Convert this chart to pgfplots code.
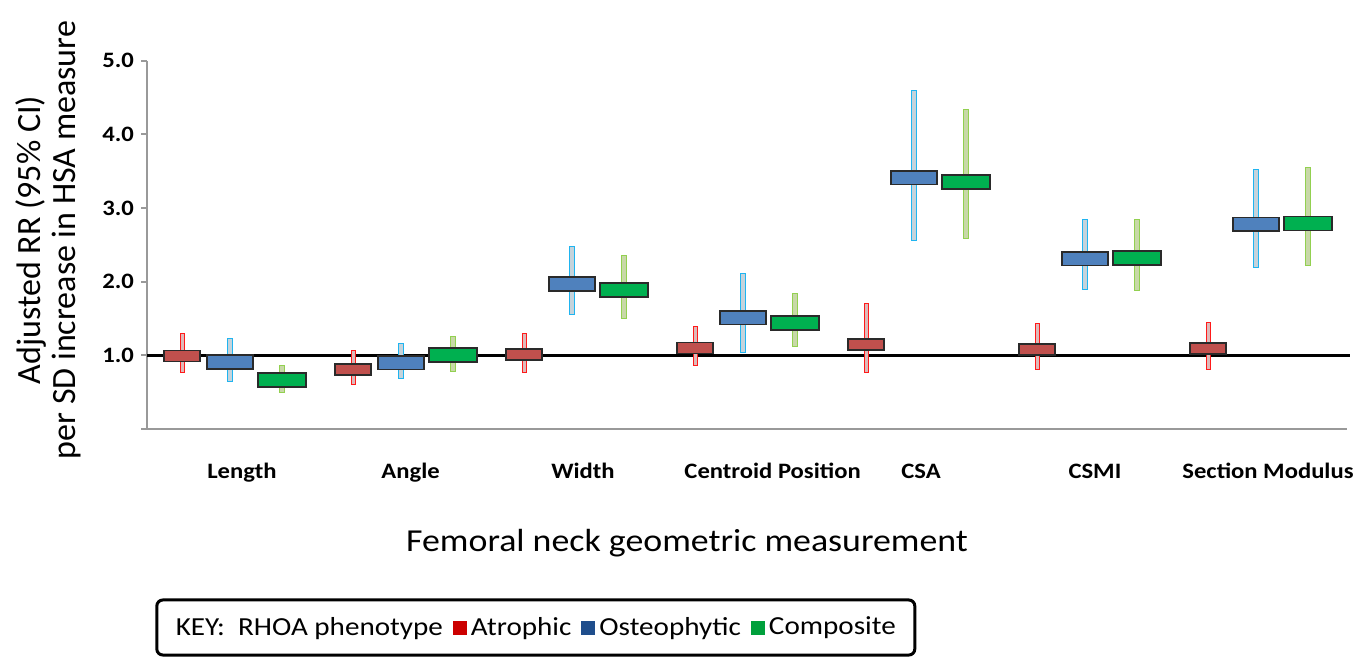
\documentclass[border=0pt]{standalone}
\usepackage{pgfplots}
\usepackage{pgfplotstable}
\pgfplotsset{compat=1.18}
\usepackage{fontspec}
\setmainfont[FakeStretch=1.12]{Carlito}
\newfontfamily\ylabfont{Carlito}

\definecolor{axisgray}{HTML}{999999}
\definecolor{boxedge}{HTML}{2A2A2A}
\definecolor{atrobox}{HTML}{C0504D}
\definecolor{osteobox}{HTML}{4F81BD}
\definecolor{compbox}{HTML}{00B050}
\definecolor{atroline}{HTML}{FF1A1A}
\definecolor{osteoline}{HTML}{1FB4F0}
\definecolor{compline}{HTML}{92D050}
\definecolor{atroin}{HTML}{DDBABA}
\definecolor{osteoin}{HTML}{C5D3DB}
\definecolor{compin}{HTML}{C8D8A8}
\definecolor{legred}{HTML}{CC0000}
\definecolor{legblue}{HTML}{1F4E8C}
\definecolor{leggreen}{HTML}{00A03C}

\pgfplotstableread{
x est lo hi
-0.28 0.99 0.79 1.27
0.72 0.81 0.63 1.04
1.72 1.01 0.79 1.27
2.72 1.10 0.89 1.36
3.72 1.15 0.79 1.68
4.72 1.08 0.83 1.40
5.72 1.09 0.83 1.42
}\atro

\pgfplotstableread{
x est lo hi
0 0.91 0.67 1.20
1 0.90 0.71 1.13
2 1.97 1.59 2.44
3 1.51 1.07 2.08
4 3.41 2.59 4.57
5 2.31 1.92 2.81
6 2.78 2.23 3.49
}\osteo

\pgfplotstableread{
x est lo hi
0.305 0.67 0.53 0.83
1.305 1.00 0.82 1.22
2.305 1.89 1.54 2.32
3.305 1.44 1.16 1.80
4.305 3.35 2.62 4.30
5.305 2.32 1.92 2.81
6.305 2.79 2.25 3.51
}\comp

\begin{document}
\begin{tikzpicture}
\useasboundingbox (0,0) rectangle (685pt,329pt);
\begin{axis}[
  at={(73.5pt,114.5pt)}, anchor=south west,
  scale only axis, width=600pt, height=184.15pt,
  xmin=-0.4854, xmax=6.532, ymin=0, ymax=5,
  axis x line*=bottom, axis y line*=left,
  axis line style={draw=axisgray, line width=1pt},
  ytick={0,1,2,3,4,5}, yticklabels={,1.0,2.0,3.0,4.0,5.0},
  ytick style={draw=axisgray, line width=1pt},
  tick align=outside, major tick length=3pt,
  xtick={0.070,1.056,2.064,3.173,4.041,5.058,6.070},
  xticklabels={Length,Angle,Width,Centroid Position,CSA,CSMI,Section Modulus},
  xtick style={draw=none},
  ticklabel style={font=\bfseries\fontsize{11}{13}\selectfont},
  xticklabel style={anchor=base, yshift=-22pt},
  /pgf/number format/assume math mode=true,
  clip=false,
  xlabel={Femoral neck geometric measurement},
  xlabel style={at={(axis description cs:0.45,-0.3095)}, anchor=center, font=\fontsize{16}{19}\selectfont},
  ylabel={Adjusted RR (95\% CI)\\per SD increase in HSA measure},
  ylabel style={at={(axis description cs:-0.0825,0.513)}, anchor=center, align=center, font=\ylabfont\fontsize{17}{17.5}\selectfont},
  legend style={at={(axis description cs:0.324,-0.539)}, anchor=center, legend columns=-1,
    draw=black, line width=1.5pt, rounded corners=3pt,
    font=\fontsize{13}{15.5}\selectfont, inner xsep=7.5pt, inner ysep=6.5pt,
    /tikz/every even column/.append style={column sep=3pt}},
  legend image code/.code={\fill[#1, draw=none, sharp corners] (0pt,-3.5pt) rectangle (7pt,3.5pt);},
]
% reference line
\addplot[forget plot, black, line width=1.25pt] coordinates {(-0.4854,1) (6.55,1)};

% boxes
\addplot[forget plot, only marks, mark=square*, mark size=2.75pt,
  mark options={xscale=3.27, fill=atrobox, draw=boxedge, line width=0.9pt}] table[x=x,y=est]{\atro};
\addplot[forget plot, only marks, mark=square*, mark size=3.375pt,
  mark options={xscale=3.41, fill=osteobox, draw=boxedge, line width=0.9pt}] table[x=x,y=est]{\osteo};
\addplot[forget plot, only marks, mark=square*, mark size=3.5pt,
  mark options={xscale=3.43, fill=compbox, draw=boxedge, line width=0.9pt}] table[x=x,y=est]{\comp};

% confidence intervals: coloured outer stroke, lighter inner stroke
\addplot[forget plot, draw=none, mark=none,
  error bars/.cd, y dir=both, y explicit, error mark=none,
  error bar style={draw=atroline, line width=2.5pt, line cap=rect}]
  table[x=x, y=est, y error plus expr=\thisrow{hi}-\thisrow{est}, y error minus expr=\thisrow{est}-\thisrow{lo}]{\atro};
\addplot[forget plot, draw=none, mark=none,
  error bars/.cd, y dir=both, y explicit, error mark=none,
  error bar style={draw=atroin, line width=1.5pt, line cap=rect}]
  table[x=x, y=est, y error plus expr=\thisrow{hi}-\thisrow{est}, y error minus expr=\thisrow{est}-\thisrow{lo}]{\atro};
\addplot[forget plot, draw=none, mark=none,
  error bars/.cd, y dir=both, y explicit, error mark=none,
  error bar style={draw=osteoline, line width=2.8pt, line cap=rect}]
  table[x=x, y=est, y error plus expr=\thisrow{hi}-\thisrow{est}, y error minus expr=\thisrow{est}-\thisrow{lo}]{\osteo};
\addplot[forget plot, draw=none, mark=none,
  error bars/.cd, y dir=both, y explicit, error mark=none,
  error bar style={draw=osteoin, line width=1.8pt, line cap=rect}]
  table[x=x, y=est, y error plus expr=\thisrow{hi}-\thisrow{est}, y error minus expr=\thisrow{est}-\thisrow{lo}]{\osteo};
\addplot[forget plot, draw=none, mark=none,
  error bars/.cd, y dir=both, y explicit, error mark=none,
  error bar style={draw=compline, line width=3.1pt, line cap=rect}]
  table[x=x, y=est, y error plus expr=\thisrow{hi}-\thisrow{est}, y error minus expr=\thisrow{est}-\thisrow{lo}]{\comp};
\addplot[forget plot, draw=none, mark=none,
  error bars/.cd, y dir=both, y explicit, error mark=none,
  error bar style={draw=compin, line width=2.1pt, line cap=rect}]
  table[x=x, y=est, y error plus expr=\thisrow{hi}-\thisrow{est}, y error minus expr=\thisrow{est}-\thisrow{lo}]{\comp};

\addlegendimage{empty legend}
\addlegendentry{KEY:\ \ RHOA phenotype\hspace{5pt}}
\addlegendimage{fill=legred}
\addlegendentry{Atrophic\hspace{3pt}}
\addlegendimage{fill=legblue}
\addlegendentry{Osteophytic}
\addlegendimage{fill=leggreen}
\addlegendentry{Composite}
\end{axis}
\end{tikzpicture}
\end{document}
